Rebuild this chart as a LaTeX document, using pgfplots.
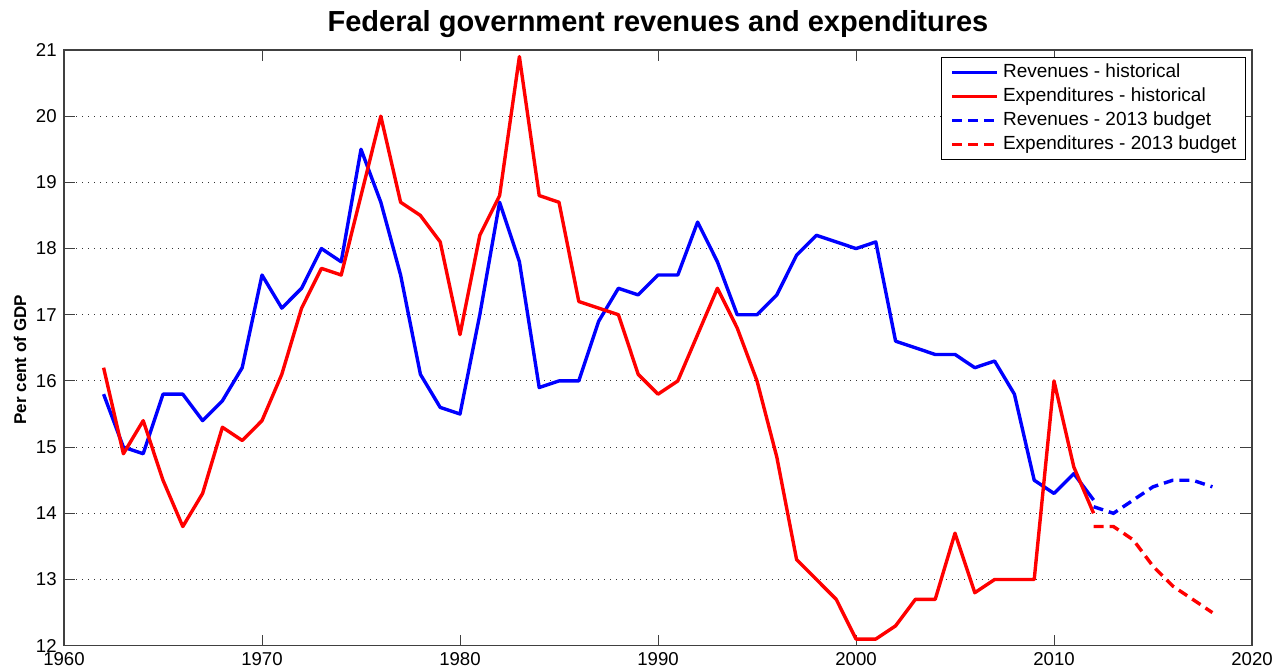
\documentclass[border=0pt]{standalone}
\usepackage{fontspec}
\setmainfont{Liberation Sans}
\usepackage{pgfplots}
\pgfplotsset{compat=1.18}
\begin{document}
\begin{tikzpicture}
\begin{axis}[
  name=ax,
  scale only axis,
  width=594pt, height=297.85pt,
  xmin=1960, xmax=2020, ymin=12, ymax=21,
  xtick={1960,1970,...,2020},
  ytick={12,13,...,21},
  /pgf/number format/assume math mode=true,
  /pgf/number format/1000 sep={},
  tick label style={font=\fontsize{9.3}{10}\selectfont},
  xticklabel style={inner sep=0pt, yshift=-3pt},
  yticklabel style={inner sep=0pt, xshift=-3.5pt},
  tick align=inside,
  major tick length=5.5pt,
  tick style={color=black!75, line width=0.5pt},
  axis line style={color=black!75, line width=0.6pt},
  ymajorgrids,
  major grid style={dash pattern=on 0.5pt off 2.5pt, line width=0.5pt, color=black!80},
  every axis title shift=0pt,
  title={Federal government revenues and expenditures},
  title style={font=\fontsize{14.5}{16}\selectfont\bfseries, at={(0.5,1)}, anchor=base, yshift=9pt},
  ylabel={Per cent of GDP},
  every axis y label/.style={at={(axis description cs:0,0.48)}, xshift=-22pt, rotate=90, anchor=center, font=\fontsize{8.5}{10}\selectfont\bfseries},
  legend cell align=left,
  legend image code/.code={\draw[#1] (0pt,0pt) -- (22.5pt,0pt);},
  legend style={at={(1,1)}, anchor=north east, xshift=-3pt, yshift=-3.5pt,
    draw=black, line width=0.5pt, fill=white,
    font=\fontsize{9.5}{11}\selectfont,
    inner xsep=4.5pt, inner ysep=1.5pt, row sep=0pt, column sep=2pt,
    nodes={inner sep=0pt, text height=8.5pt, text depth=3.5pt}},
]
\addplot[blue, line width=1.7pt, line join=round] coordinates {
(1962,15.8)(1963,15.0)(1964,14.9)(1965,15.8)(1966,15.8)(1967,15.4)(1968,15.7)(1969,16.2)
(1970,17.6)(1971,17.1)(1972,17.4)(1973,18.0)(1974,17.8)(1975,19.5)(1976,18.7)(1977,17.6)
(1978,16.1)(1979,15.6)(1980,15.5)(1981,17.0)(1982,18.7)(1983,17.8)(1984,15.9)(1985,16.0)
(1986,16.0)(1987,16.9)(1988,17.4)(1989,17.3)(1990,17.6)(1991,17.6)(1992,18.4)(1993,17.8)
(1994,17.0)(1995,17.0)(1996,17.3)(1997,17.9)(1998,18.2)(1999,18.1)(2000,18.0)(2001,18.1)
(2002,16.6)(2003,16.5)(2004,16.4)(2005,16.4)(2006,16.2)(2007,16.3)(2008,15.8)(2009,14.5)
(2010,14.3)(2011,14.6)(2012,14.2)};
\addlegendentry{Revenues - historical}
\addplot[red, line width=1.7pt, line join=round] coordinates {
(1962,16.2)(1963,14.9)(1964,15.4)(1965,14.5)(1966,13.8)(1967,14.3)(1968,15.3)(1969,15.1)
(1970,15.4)(1971,16.1)(1972,17.1)(1973,17.7)(1974,17.6)(1975,18.8)(1976,20.0)(1977,18.7)
(1978,18.5)(1979,18.1)(1980,16.7)(1981,18.2)(1982,18.8)(1983,20.9)(1984,18.8)(1985,18.7)
(1986,17.2)(1987,17.1)(1988,17.0)(1989,16.1)(1990,15.8)(1991,16.0)(1992,16.7)(1993,17.4)
(1994,16.8)(1995,16.0)(1996,14.85)(1997,13.3)(1998,13.0)(1999,12.7)(2000,12.1)(2001,12.1)
(2002,12.3)(2003,12.7)(2004,12.7)(2005,13.7)(2006,12.8)(2007,13.0)(2008,13.0)(2009,13.0)
(2010,16.0)(2011,14.7)(2012,14.0)};
\addlegendentry{Expenditures - historical}
\addplot[blue, line width=1.7pt, dash pattern=on 5pt off 3pt] coordinates {
(2012,14.1)(2013,14.0)(2014,14.2)(2015,14.4)(2016,14.5)(2017,14.5)(2018,14.4)};
\addlegendentry{Revenues - 2013 budget}
\addplot[red, line width=1.7pt, dash pattern=on 5pt off 3pt] coordinates {
(2012,13.8)(2013,13.8)(2014,13.6)(2015,13.2)(2016,12.9)(2017,12.7)(2018,12.5)};
\addlegendentry{Expenditures - 2013 budget}
\end{axis}
\pgfresetboundingbox
\path[use as bounding box] ([shift={(-32pt,-11.15pt)}]ax.south west) rectangle ([shift={(14.5pt,25pt)}]ax.north east);
\end{tikzpicture}
\end{document}
